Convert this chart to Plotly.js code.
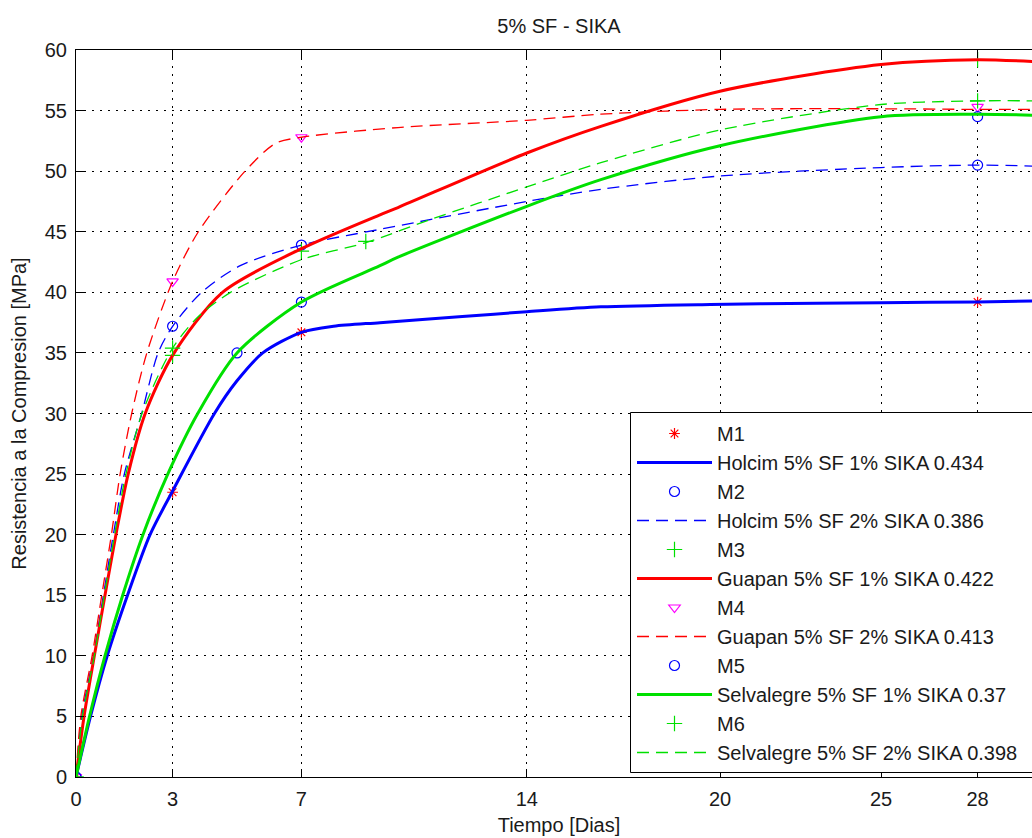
<!DOCTYPE html>
<html>
<head>
<meta charset="utf-8">
<script src="https://cdn.plot.ly/plotly-3.0.1.min.js"></script>
<style>
html,body{margin:0;padding:0;overflow:hidden;background:#fff}
#chart{width:1042px;height:838px}
</style>
</head>
<body>
<div id="chart"></div>
<script>
// ---- tick labels ----
const xTickVals = [0, 3, 7, 14, 20, 25, 28];
const yTickVals = [0, 5, 10, 15, 20, 25, 30, 35, 40, 45, 50, 55, 60];

// ---- measured data points (markers) ----
const m1Dias = [0, 3, 7, 28];
const m1Val  = [0, 23.5, 36.7, 39.2];
const m2Dias = [0, 3, 7, 28];
const m2Val  = [0, 37.2, 43.9, 50.5];
const m3Dias = [0, 3, 7, 28];
const m3Val  = [0, 34.8, 43.4, 59.2];
const m4Dias = [0, 3, 7, 28];
const m4Val  = [0, 40.9, 52.8, 55.3];
const m5Dias = [0, 5, 7, 28];
const m5Val  = [0, 35.0, 39.2, 54.5];
const m6Dias = [0, 3, 9, 28];
const m6Val  = [0, 35.4, 44.2, 55.8];

// ---- fitted curves ----
const holcim1Dias = [0, 0.45, 0.97, 1.6, 2.3, 3, 4.3, 5, 5.8, 7, 8, 9.44, 12, 14, 16.3, 19.7, 23, 25, 28, 30];
const holcim1Val  = [0, 5, 10, 15, 20, 23.6, 30, 32.7, 35, 36.7, 37.2, 37.5, 38.0, 38.4, 38.8, 39.0, 39.1, 39.15, 39.2, 39.3];

const holcim2Dias = [0, 0.18, 0.54, 0.85, 1.16, 1.5, 2.04, 2.55, 3, 3.9, 5.1, 7, 9.44, 14, 16.3, 20, 25, 28, 30];
const holcim2Val  = [0, 5, 10, 15, 20, 25, 30, 35, 37.2, 40, 42.2, 43.9, 45.2, 47.5, 48.5, 49.6, 50.3, 50.5, 50.4];

const guapan1Dias = [0, 0.25, 0.57, 0.9, 1.24, 1.62, 2.15, 3, 4.55, 7, 9.44, 10, 14, 16.3, 20, 25, 28, 30];
const guapan1Val  = [0, 5, 10, 15, 20, 25, 30, 34.8, 40, 43.6, 46.4, 47.0, 51.5, 53.7, 56.6, 58.8, 59.2, 59.0];

const guapan2Dias = [0, 0.15, 0.5, 0.8, 1.1, 1.37, 1.73, 2.2, 3, 3.8, 5.25, 6.2, 7, 10, 14, 16.3, 20, 25, 28, 30];
const guapan2Val  = [0, 5, 10, 15, 20, 25, 30, 35, 40.9, 45, 50, 52.3, 52.8, 53.6, 54.2, 54.7, 55.1, 55.15, 55.1, 55.1];

const selva1Dias = [0, 0.42, 0.9, 1.45, 2.08, 2.85, 3.78, 5, 7, 9.44, 10, 14, 16.3, 20, 25, 28, 30];
const selva1Val  = [0, 5, 10, 15, 20, 25, 30, 35, 39.2, 42.2, 42.9, 47.1, 49.3, 52.1, 54.5, 54.7, 54.6];

const selva2Dias = [0, 0.2, 0.57, 0.88, 1.2, 1.55, 2.05, 3, 3.8, 4.8, 7, 9, 11, 14, 16.3, 20, 25, 28, 30];
const selva2Val  = [0, 5, 10, 15, 20, 25, 30, 35.4, 38, 40, 42.7, 44.1, 46.0, 48.7, 50.7, 53.4, 55.5, 55.8, 55.8];

const names = [
  'M1', 'Holcim 5% SF 1% SIKA 0.434',
  'M2', 'Holcim 5% SF 2% SIKA 0.386',
  'M3', 'Guapan 5% SF 1% SIKA 0.422',
  'M4', 'Guapan 5% SF 2% SIKA 0.413',
  'M5', 'Selvalegre 5% SF 1% SIKA 0.37',
  'M6', 'Selvalegre 5% SF 2% SIKA 0.398'
];

const RED = '#ff0000', BLUE = '#0000ff', GREEN = '#00e000', MAG = '#ff00ff';
const DASH = '12px,7px';

function mk(name, x, y, sym, col, size) {
  return {type: 'scatter', mode: 'markers', name: name, x: x, y: y,
    marker: {symbol: sym, size: size, color: col, line: {color: col, width: 1.2}}};
}
function ln(name, x, y, col, w, dash) {
  return {type: 'scatter', mode: 'lines', name: name, x: x, y: y,
    line: {color: col, width: w, dash: dash, shape: 'spline', smoothing: 0.8}};
}

const data = [
  mk(names[0], m1Dias, m1Val, 'asterisk-open', RED, 9),
  ln(names[1], holcim1Dias, holcim1Val, BLUE, 3, 'solid'),
  mk(names[2], m2Dias, m2Val, 'circle-open', BLUE, 10),
  ln(names[3], holcim2Dias, holcim2Val, BLUE, 1.3, DASH),
  mk(names[4], m3Dias, m3Val, 'cross-thin-open', GREEN, 11),
  ln(names[5], guapan1Dias, guapan1Val, RED, 3, 'solid'),
  mk(names[6], m4Dias, m4Val, 'triangle-down-open', MAG, 10),
  ln(names[7], guapan2Dias, guapan2Val, RED, 1.3, DASH),
  mk(names[8], m5Dias, m5Val, 'circle-open', BLUE, 10),
  ln(names[9], selva1Dias, selva1Val, GREEN, 3, 'solid'),
  mk(names[10], m6Dias, m6Val, 'cross-thin-open', GREEN, 11),
  ln(names[11], selva2Dias, selva2Val, GREEN, 1.3, DASH)
];

const FONT = 'Liberation Sans, Arial, Helvetica, sans-serif';
const TXT = '#1a1a1a';
const axisCommon = {
  ticks: 'inside', ticklen: 8, tickcolor: '#000', tickwidth: 1,
  showline: true, linecolor: '#000', linewidth: 1, mirror: 'ticks',
  showgrid: true, gridcolor: '#000', gridwidth: 1, griddash: '2px,6px',
  zeroline: false, tickfont: {family: FONT, size: 20, color: TXT},
  ticklabelstandoff: 4
};

const legX = (632 - 76) / 966, legTop = (777 - 414) / 727;
const boxX = (630.5 - 76) / 966, boxTop = (777 - 412.5) / 727, boxBot = (777 - 772.5) / 727;

const layout = {
  width: 1042, height: 838,
  margin: {l: 76, r: 0, t: 50, b: 61, pad: 0},
  paper_bgcolor: '#fff', plot_bgcolor: '#fff',
  font: {family: FONT, size: 20, color: TXT},
  title: {text: '5% SF - SIKA', font: {family: FONT, size: 20, color: TXT},
          x: 0.5, xref: 'paper', y: 1 - 26/838, yref: 'container', yanchor: 'middle'},
  xaxis: Object.assign({}, axisCommon, {
    range: [0, 30], tickmode: 'array', tickvals: xTickVals,
    ticktext: xTickVals.map(String),
    title: {text: 'Tiempo [Dias]', font: {family: FONT, size: 20, color: TXT}, standoff: 8}
  }),
  yaxis: Object.assign({}, axisCommon, {
    range: [0, 60], tickmode: 'array', tickvals: yTickVals,
    ticktext: yTickVals.map(String),
    title: {text: 'Resistencia a la Compresion [MPa]', font: {family: FONT, size: 20, color: TXT}, standoff: 12}
  }),
  shapes: [{
    type: 'rect', xref: 'paper', yref: 'paper', layer: 'above',
    x0: boxX, x1: 1.2, y0: boxBot, y1: boxTop,
    fillcolor: '#fff', line: {color: '#000', width: 1}
  }],
  showlegend: true,
  legend: {
    x: legX, y: legTop, xanchor: 'left', yanchor: 'top',
    xref: 'paper', yref: 'paper',
    bgcolor: '#ffffff', borderwidth: 0,
    font: {family: FONT, size: 20, color: TXT},
    itemwidth: 75, traceorder: 'normal', tracegroupgap: 0
  }
};

Plotly.newPlot('chart', data, layout, {displayModeBar: false, staticPlot: true});
</script>
</body>
</html>
